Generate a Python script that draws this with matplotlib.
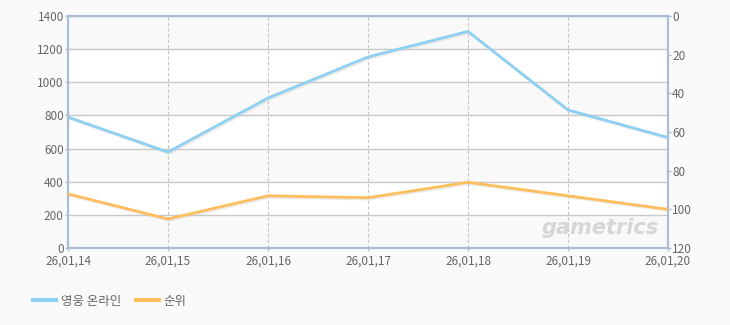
import matplotlib
matplotlib.use('Agg')
import matplotlib.pyplot as plt
import matplotlib.patheffects as pe

plt.rcParams['font.family'] = ['Noto Sans CJK KR', 'DejaVu Sans']

dates = ['26,01,14', '26,01,15', '26,01,16', '26,01,17', '26,01,18', '26,01,19', '26,01,20']
users = [790, 579, 905, 1153, 1307, 833, 667]
rank = [92, 105, 93, 94, 86, 93, 100]
left_ticks = [0, 200, 400, 600, 800, 1000, 1200, 1400]
right_ticks = [0, 20, 40, 60, 80, 100, 120]

blue = '#8ed0f2'
orange = '#ffbe5c'
grey_text = '#666666'
spine_col = '#a9bdd4'

fig = plt.figure(figsize=(7.3, 3.25), dpi=100, facecolor='#fafafa')
ax1 = fig.add_axes([68/730, 1 - 248/325, 600/730, 232/325])
ax1.set_facecolor('white')

# alternating bands
for i, lo in enumerate(left_ticks[:-1]):
    if i % 2 == 0:
        ax1.axhspan(lo, lo + 200, color='#f9f9f9', zorder=0, lw=0)

x = list(range(len(dates)))
shadow = [pe.SimpleLineShadow(offset=(1, -1), shadow_color='#cccccc', alpha=0.4), pe.Normal()]
ax1.plot(x, users, color=blue, lw=2, zorder=3, path_effects=shadow)
ax1.set_ylim(0, 1400)
ax1.set_xlim(0, len(dates) - 1)
ax1.set_yticks(left_ticks)
ax1.set_xticks(x)
ax1.set_xticklabels(dates)
ax1.grid(axis='y', color='#c8c8c8', lw=1, ls='-', zorder=1)
ax1.grid(axis='x', color='#c4c4c4', lw=0.8, ls=(0, (3, 2)), zorder=1)
ax1.set_axisbelow(True)
ax1.tick_params(axis='y', length=2, width=1, color=spine_col, labelsize=8.5,
                labelcolor=grey_text, pad=1)
ax1.tick_params(axis='x', length=2, width=1, color=spine_col, labelsize=8.5,
                labelcolor=grey_text, pad=3)
for s in ax1.spines.values():
    s.set_color(spine_col)
    s.set_linewidth(1.5)

ax2 = ax1.twinx()
ax2.plot(x, rank, color=orange, lw=2, zorder=3, path_effects=shadow)
ax2.set_ylim(120, 0)
ax2.set_yticks(right_ticks)
ax2.tick_params(axis='y', length=2, width=1, color=spine_col, labelsize=8.5,
                labelcolor=grey_text, pad=1)
for s in ax2.spines.values():
    s.set_color(spine_col)
    s.set_linewidth(1.5)

# watermark
ax1.text(0.985, 0.045, 'gametrics', transform=ax1.transAxes, ha='right', va='bottom',
         fontsize=15, fontstyle='italic', fontweight='bold', color='#d6d6d6',
         family='DejaVu Sans', zorder=2)

h1, = plt.plot([], [], color=blue, lw=3)
h2, = plt.plot([], [], color=orange, lw=3)
fig.legend([h1, h2], ['영웅 온라인', '순위'], loc='center left',
           bbox_to_anchor=(22/730, 1 - 301/325), ncol=2, frameon=False,
           handlelength=1.8, handletextpad=0.4, columnspacing=1.2,
           prop={'size': 9}, labelcolor=grey_text)

fig.savefig('out.png', dpi=100, facecolor=fig.get_facecolor())
